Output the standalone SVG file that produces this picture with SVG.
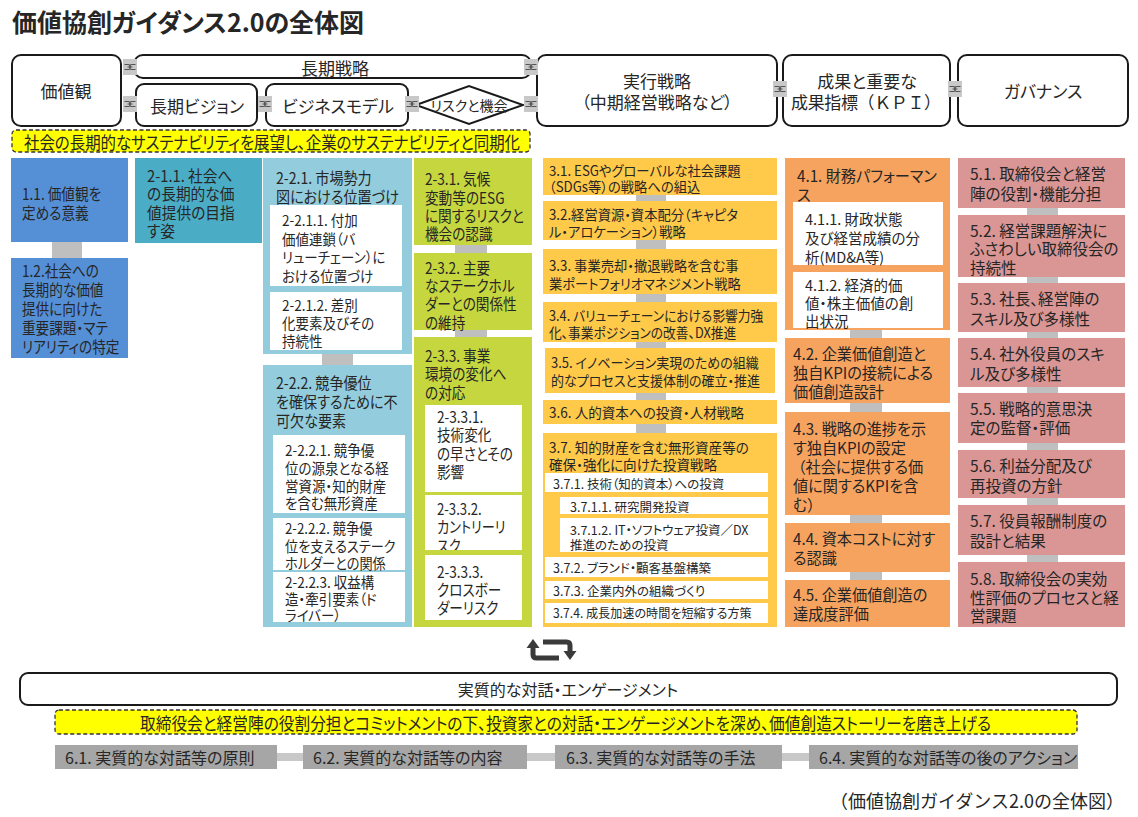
<svg xmlns="http://www.w3.org/2000/svg" width="1138" height="817" viewBox="0 0 1138 817">
<defs>
<style>
text{font-family:"Noto Sans CJK JP","Noto Sans",sans-serif;fill:#262626;font-feature-settings:"palt" 1;dominant-baseline:central}
.ttl{font-size:25px;font-weight:bold;dominant-baseline:auto}
.np{font-feature-settings:normal}
.h{font-size:17px}
.m{font-size:16px}
.f155{font-size:15.5px}
.f145{font-size:14.5px}
.s3{font-size:14px}
.x{font-size:12.5px}
.mid{text-anchor:middle}
.k{transform-box:fill-box;transform-origin:0 0}
.a85{transform:scaleX(.85)}
.a88{transform:scaleX(.88)}
.a91{transform:scaleX(.91)}
.a93{transform:scaleX(.93)}
.a95{transform:scaleX(.95)}
.a97{transform:scaleX(.97)}
.a98{transform:scaleX(.98)}
.ol{fill:#fff;stroke:#1a1a1a;stroke-width:2}
.b1{fill:#5590d6}
.b21{fill:#4bacc6}
.b22{fill:#93cddd}
.b23{fill:#c6d63f}
.b3{fill:#ffc94a}
.b4{fill:#f6a35f}
.b5{fill:#da9694}
.w{fill:#fff}
.g{fill:#bfbfbf}
.g6{fill:#a6a6a6}
.g7{fill:#c8c8c8}
.ban{fill:#ffff00;stroke:#333;stroke-width:1.3;stroke-dasharray:4 2.5}
.cyc{fill:none;stroke:#3a3a3a;stroke-width:5}
</style>
<symbol id="lk" viewBox="0 0 14 16"><rect width="14" height="16" fill="#c8c8c8"/><path d="M1.5 5.5h3.5a2.5 2.5 0 0 1 0 5H1.5M12.5 5.5H9a2.5 2.5 0 0 0 0 5h3.5M4.5 8h5" fill="none" stroke="#555" stroke-width="1.1"/></symbol>
<clipPath id="cp332"><rect x="425" y="495" width="97" height="55"/></clipPath>
</defs>
<rect width="1138" height="817" fill="#fff"/>
<text class="ttl" x="12" y="32" textLength="352">価値協創ガイダンス2.0の全体図</text>

<!-- top row -->
<g id="kachikan"><rect class="ol" x="12" y="55" width="109" height="71" rx="9"/><text class="h mid" x="66" y="90">価値観</text></g>
<g id="choki-senryaku"><rect class="ol" x="134" y="55" width="397" height="23" rx="9"/><text class="h mid" x="335" y="67">長期戦略</text></g>
<g id="choki-vision"><rect class="ol" x="136" y="84" width="121" height="42" rx="8"/><text class="h mid" x="197" y="105">長期ビジョン</text></g>
<g id="business-model"><rect class="ol" x="266" y="84" width="142" height="42" rx="8"/><text class="h mid" x="338" y="105">ビジネスモデル</text></g>
<g id="risk"><polygon class="ol" points="416,105 469,86 523,105 469,124"/><text class="s3 mid" x="469" y="105">リスクと機会</text></g>
<g id="jikko"><rect class="ol" x="537" y="55" width="240" height="71" rx="9"/><text class="h mid" x="657" y="80">実行戦略</text><text class="h mid" x="657" y="101">（中期経営戦略など）</text></g>
<g id="seika"><rect class="ol" x="783" y="55" width="167" height="71" rx="9"/><text class="h mid" x="867" y="80">成果と重要な</text><text class="h mid np" x="866" y="101" textLength="150">成果指標（ＫＰＩ）</text></g>
<g id="governance"><rect class="ol" x="958" y="55" width="170" height="71" rx="9"/><text class="h mid" x="1043" y="90">ガバナンス</text></g>
<g id="banner1"><rect class="ban" x="12" y="130" width="518" height="22" rx="4"/><text class="h" x="24" y="141" textLength="496" lengthAdjust="spacingAndGlyphs">社会の長期的なサステナビリティを展望し、企業のサステナビリティと同期化</text></g>

<g id="connectors">
<use href="#lk" x="123" y="59" width="14" height="16"/>
<use href="#lk" x="123" y="96" width="14" height="16"/>
<use href="#lk" x="258" y="96" width="14" height="16"/>
<use href="#lk" x="405" y="96" width="14" height="16"/>
<use href="#lk" x="524" y="59" width="14" height="16"/>
<use href="#lk" x="524" y="96" width="14" height="16"/>
<use href="#lk" x="773" y="81" width="14" height="16"/>
<use href="#lk" x="948" y="81" width="14" height="16"/>
<rect class="g" x="52" y="242" width="30" height="16"/>
<rect class="g" x="322" y="354" width="31" height="11"/>
<rect class="g" x="455" y="245" width="32" height="8"/>
<rect class="g" x="455" y="330" width="32" height="7"/>
<rect class="g" x="636" y="195" width="30" height="6"/>
<rect class="g" x="636" y="240" width="30" height="9"/>
<rect class="g" x="636" y="294" width="30" height="8"/>
<rect class="g" x="636" y="342" width="30" height="6"/>
<rect class="g" x="636" y="393" width="30" height="7"/>
<rect class="g" x="636" y="424" width="30" height="9"/>
<rect class="g" x="850" y="330" width="32" height="8"/>
<rect class="g" x="850" y="403" width="32" height="9"/>
<rect class="g" x="850" y="515" width="32" height="8"/>
<rect class="g" x="850" y="572" width="32" height="8"/>
<rect class="g" x="1027" y="208" width="31" height="7"/>
<rect class="g" x="1027" y="277" width="31" height="6"/>
<rect class="g" x="1027" y="332" width="31" height="6"/>
<rect class="g" x="1027" y="387" width="31" height="6"/>
<rect class="g" x="1027" y="443" width="31" height="7"/>
<rect class="g" x="1027" y="498" width="31" height="7"/>
<rect class="g" x="1027" y="555" width="31" height="7"/>
<rect class="g7" x="277" y="753" width="26" height="8"/>
<rect class="g7" x="527" y="753" width="28" height="8"/>
<rect class="g7" x="782" y="753" width="27" height="8"/>
</g>

<!-- column 1 -->
<g id="n1-1"><rect class="b1" x="11" y="158" width="117" height="84"/><text class="f155 k a88"><tspan x="22" y="193">1.1. 価値観を</tspan><tspan x="22" y="212">定める意義</tspan></text></g>
<g id="n1-2"><rect class="b1" x="11" y="258" width="117" height="100"/><text class="f155 k a88"><tspan x="22" y="270">1.2.社会への</tspan><tspan x="22" y="289">長期的な価値</tspan><tspan x="22" y="308">提供に向けた</tspan><tspan x="22" y="327">重要課題・マテ</tspan><tspan x="22" y="346">リアリティの特定</tspan></text></g>

<!-- column 2-1 -->
<g id="n2-1-1"><rect class="b21" x="135" y="158" width="127" height="85"/><text class="f155 k a95"><tspan x="147" y="175">2-1.1. 社会へ</tspan><tspan x="147" y="193">の長期的な価</tspan><tspan x="147" y="212">値提供の目指</tspan><tspan x="147" y="230">す姿</tspan></text></g>

<!-- column 2-2 -->
<g id="n2-2-1"><rect class="b22" x="263" y="158" width="149" height="196"/><text class="f155 k a91"><tspan x="276" y="177">2-2.1. 市場勢力</tspan><tspan x="276" y="196">図における位置づけ</tspan></text></g>
<g id="n2-2-1-1"><rect class="w" x="270" y="205" width="132" height="81"/><text class="f145 k a93"><tspan x="282" y="220">2-2.1.1. 付加</tspan><tspan x="282" y="239">価値連鎖（バ</tspan><tspan x="282" y="257">リューチェーン）に</tspan><tspan x="282" y="276">おける位置づけ</tspan></text></g>
<g id="n2-2-1-2"><rect class="w" x="270" y="292" width="132" height="58"/><text class="f145 k a93"><tspan x="282" y="305">2-2.1.2. 差別</tspan><tspan x="282" y="323">化要素及びその</tspan><tspan x="282" y="341">持続性</tspan></text></g>
<g id="n2-2-2"><rect class="b22" x="263" y="365" width="149" height="262"/><text class="f155 k a91"><tspan x="276" y="382">2-2.2. 競争優位</tspan><tspan x="276" y="401">を確保するために不</tspan><tspan x="276" y="420">可欠な要素</tspan></text></g>
<g id="n2-2-2-1"><rect class="w" x="273" y="435" width="132" height="78"/><text class="f145 k a93"><tspan x="285" y="450">2-2.2.1. 競争優</tspan><tspan x="285" y="468">位の源泉となる経</tspan><tspan x="285" y="486">営資源・知的財産</tspan><tspan x="285" y="503">を含む無形資産</tspan></text></g>
<g id="n2-2-2-2"><rect class="w" x="273" y="518" width="132" height="52"/><text class="f145 k a91"><tspan x="285" y="528">2-2.2.2. 競争優</tspan><tspan x="285" y="546">位を支えるステーク</tspan><tspan x="285" y="563">ホルダーとの関係</tspan></text></g>
<g id="n2-2-2-3"><rect class="w" x="273" y="572" width="132" height="50"/><text class="f145 k a93"><tspan x="285" y="582">2-2.2.3. 収益構</tspan><tspan x="285" y="599">造・牽引要素（ド</tspan><tspan x="285" y="615">ライバー）</tspan></text></g>

<!-- column 2-3 -->
<g id="n2-3-1"><rect class="b23" x="414" y="158" width="118" height="87"/><text class="f155 k a88"><tspan x="425" y="178">2-3.1. 気候</tspan><tspan x="425" y="197">変動等のESG</tspan><tspan x="425" y="215">に関するリスクと</tspan><tspan x="425" y="233">機会の認識</tspan></text></g>
<g id="n2-3-2"><rect class="b23" x="414" y="253" width="118" height="77"/><text class="f155 k a88"><tspan x="425" y="267">2-3.2. 主要</tspan><tspan x="425" y="285">なステークホル</tspan><tspan x="425" y="303">ダーとの関係性</tspan><tspan x="425" y="322">の維持</tspan></text></g>
<g id="n2-3-3"><rect class="b23" x="414" y="337" width="118" height="290"/><text class="f155 k a88"><tspan x="425" y="355">2-3.3. 事業</tspan><tspan x="425" y="373">環境の変化へ</tspan><tspan x="425" y="392">の対応</tspan></text></g>
<g id="n2-3-3-1"><rect class="w" x="425" y="405" width="97" height="87"/><text class="f155 k a88"><tspan x="437" y="416">2-3.3.1.</tspan><tspan x="437" y="434">技術変化</tspan><tspan x="437" y="453">の早さとその</tspan><tspan x="437" y="471">影響</tspan></text></g>
<g id="n2-3-3-2"><rect class="w" x="425" y="495" width="97" height="55"/><g clip-path="url(#cp332)"><text class="f155 k a85"><tspan x="437" y="507">2-3.3.2.</tspan><tspan x="437" y="525">カントリーリ</tspan><tspan x="437" y="544">スク</tspan></text></g></g>
<g id="n2-3-3-3"><rect class="w" x="425" y="555" width="97" height="65"/><text class="f155 k a88"><tspan x="437" y="571">2-3.3.3.</tspan><tspan x="437" y="589">クロスボー</tspan><tspan x="437" y="607">ダーリスク</tspan></text></g>

<!-- column 3 -->
<g id="n3-1"><rect class="b3" x="543" y="158" width="234" height="37"/><text class="s3 k a95"><tspan x="549" y="170">3.1. ESGやグローバルな社会課題</tspan><tspan x="549" y="186">（SDGs等）の戦略への組込</tspan></text></g>
<g id="n3-2"><rect class="b3" x="543" y="201" width="234" height="39"/><text class="s3 k a95"><tspan x="549" y="214">3.2.経営資源・資本配分（キャピタ</tspan><tspan x="549" y="231">ル・アロケーション）戦略</tspan></text></g>
<g id="n3-3"><rect class="b3" x="543" y="249" width="234" height="45"/><text class="s3 k a95"><tspan x="549" y="265">3.3. 事業売却・撤退戦略を含む事</tspan><tspan x="549" y="283">業ポートフォリオマネジメント戦略</tspan></text></g>
<g id="n3-4"><rect class="b3" x="543" y="302" width="234" height="40"/><text class="s3 k a91"><tspan x="549" y="315">3.4. バリューチェーンにおける影響力強</tspan><tspan x="549" y="332">化、事業ポジションの改善、DX推進</tspan></text></g>
<g id="n3-5"><rect class="b3" x="545" y="348" width="230" height="45"/><text class="s3 k a93"><tspan x="551" y="362">3.5. イノベーション実現のための組織</tspan><tspan x="551" y="380">的なプロセスと支援体制の確立・推進</tspan></text></g>
<g id="n3-6"><rect class="b3" x="543" y="400" width="234" height="24"/><text class="s3 k a97" x="549" y="412">3.6. 人的資本への投資・人材戦略</text></g>
<g id="n3-7"><rect class="b3" x="543" y="433" width="234" height="194"/><text class="s3 k a97"><tspan x="549" y="447">3.7. 知的財産を含む無形資産等の</tspan><tspan x="549" y="464">確保・強化に向けた投資戦略</tspan></text></g>
<g id="n3-7-1"><rect class="w" x="545" y="473" width="223" height="19"/><text class="x" x="553" y="483">3.7.1. 技術（知的資本）への投資</text></g>
<g id="n3-7-1-1"><rect class="w" x="560" y="497" width="208" height="17"/><text class="x" x="570" y="506">3.7.1.1. 研究開発投資</text></g>
<g id="n3-7-1-2"><rect class="w" x="560" y="518" width="208" height="34"/><text class="x"><tspan x="570" y="529">3.7.1.2. IT・ソフトウェア投資／DX</tspan><tspan x="570" y="544">推進のための投資</tspan></text></g>
<g id="n3-7-2"><rect class="w" x="545" y="557" width="223" height="20"/><text class="x" x="553" y="567">3.7.2. ブランド・顧客基盤構築</text></g>
<g id="n3-7-3"><rect class="w" x="545" y="581" width="223" height="18"/><text class="x" x="553" y="590">3.7.3. 企業内外の組織づくり</text></g>
<g id="n3-7-4"><rect class="w" x="545" y="603" width="223" height="20"/><text class="x k a97" x="553" y="613">3.7.4. 成長加速の時間を短縮する方策</text></g>

<!-- column 4 -->
<g id="n4-1"><rect class="b4" x="785" y="158" width="165" height="172"/><text class="f155 k a98"><tspan x="797" y="175">4.1. 財務パフォーマン</tspan><tspan x="797" y="194">ス</tspan></text></g>
<g id="n4-1-1"><rect class="w" x="793" y="202" width="150" height="63"/><text class="f145"><tspan x="805" y="218">4.1.1. 財政状態</tspan><tspan x="805" y="237">及び経営成績の分</tspan><tspan x="805" y="256">析(MD&amp;A等)</tspan></text></g>
<g id="n4-1-2"><rect class="w" x="793" y="272" width="150" height="56"/><text class="f145"><tspan x="805" y="284">4.1.2. 経済的価</tspan><tspan x="805" y="302">値・株主価値の創</tspan><tspan x="805" y="320">出状況</tspan></text></g>
<g id="n4-2"><rect class="b4" x="785" y="338" width="165" height="65"/><text class="f155 k a98"><tspan x="793" y="353">4.2. 企業価値創造と</tspan><tspan x="793" y="372">独自KPIの接続による</tspan><tspan x="793" y="391">価値創造設計</tspan></text></g>
<g id="n4-3"><rect class="b4" x="785" y="412" width="165" height="103"/><text class="f155 k a98"><tspan x="793" y="428">4.3. 戦略の進捗を示</tspan><tspan x="793" y="447">す独自KPIの設定</tspan><tspan x="798" y="466">（社会に提供する価</tspan><tspan x="793" y="485">値に関するKPIを含</tspan><tspan x="793" y="504">む）</tspan></text></g>
<g id="n4-4"><rect class="b4" x="785" y="523" width="165" height="49"/><text class="f155 k a98"><tspan x="793" y="538">4.4. 資本コストに対す</tspan><tspan x="793" y="557">る認識</tspan></text></g>
<g id="n4-5"><rect class="b4" x="785" y="580" width="165" height="47"/><text class="f155 k a98"><tspan x="793" y="594">4.5. 企業価値創造の</tspan><tspan x="793" y="613">達成度評価</tspan></text></g>

<!-- column 5 -->
<g id="n5-1"><rect class="b5" x="958" y="158" width="167" height="50"/><text class="m k a97"><tspan x="970" y="173">5.1. 取締役会と経営</tspan><tspan x="970" y="193">陣の役割・機能分担</tspan></text></g>
<g id="n5-2"><rect class="b5" x="958" y="215" width="167" height="62"/><text class="m k a97"><tspan x="970" y="230">5.2. 経営課題解決に</tspan><tspan x="970" y="248">ふさわしい取締役会の</tspan><tspan x="970" y="267">持続性</tspan></text></g>
<g id="n5-3"><rect class="b5" x="958" y="283" width="167" height="49"/><text class="m k a97"><tspan x="970" y="298">5.3. 社長、経営陣の</tspan><tspan x="970" y="318">スキル及び多様性</tspan></text></g>
<g id="n5-4"><rect class="b5" x="958" y="338" width="167" height="49"/><text class="m k a97"><tspan x="970" y="353">5.4. 社外役員のスキ</tspan><tspan x="970" y="373">ル及び多様性</tspan></text></g>
<g id="n5-5"><rect class="b5" x="958" y="393" width="167" height="50"/><text class="m k a97"><tspan x="970" y="408">5.5. 戦略的意思決</tspan><tspan x="970" y="427">定の監督・評価</tspan></text></g>
<g id="n5-6"><rect class="b5" x="958" y="450" width="167" height="48"/><text class="m k a97"><tspan x="970" y="465">5.6. 利益分配及び</tspan><tspan x="970" y="485">再投資の方針</tspan></text></g>
<g id="n5-7"><rect class="b5" x="958" y="505" width="167" height="50"/><text class="m k a97"><tspan x="970" y="520">5.7. 役員報酬制度の</tspan><tspan x="970" y="540">設計と結果</tspan></text></g>
<g id="n5-8"><rect class="b5" x="958" y="562" width="167" height="65"/><text class="m k a97"><tspan x="970" y="578">5.8. 取締役会の実効</tspan><tspan x="970" y="597">性評価のプロセスと経</tspan><tspan x="970" y="615">営課題</tspan></text></g>

<!-- bottom -->
<g id="cycle">
<path class="cyc" d="M533 646V654.5Q533 658 536.5 658H559"/>
<polygon points="526.5,648 539.5,648 533,639" fill="#3a3a3a"/>
<path class="cyc" d="M543 642H566.5Q570 642 570 645.5V652"/>
<polygon points="563.5,651 576.5,651 570,660" fill="#3a3a3a"/>
</g>
<g id="engagement"><rect class="ol" x="20" y="673" width="1097" height="32" rx="8"/><text class="m mid" x="568" y="689">実質的な対話・エンゲージメント</text></g>
<g id="banner2"><rect class="ban" x="55" y="710" width="1022" height="24" rx="4"/><text class="h" x="140" y="722" textLength="851" lengthAdjust="spacingAndGlyphs">取締役会と経営陣の役割分担とコミットメントの下、投資家との対話・エンゲージメントを深め、価値創造ストーリーを磨き上げる</text></g>
<g id="n6-1"><rect class="g6" x="55" y="745" width="222" height="24"/><text class="m" x="65" y="757">6.1. 実質的な対話等の原則</text></g>
<g id="n6-2"><rect class="g6" x="303" y="745" width="224" height="24"/><text class="m" x="313" y="757">6.2. 実質的な対話等の内容</text></g>
<g id="n6-3"><rect class="g6" x="555" y="745" width="227" height="24"/><text class="m" x="566" y="757">6.3. 実質的な対話等の手法</text></g>
<g id="n6-4"><rect class="g6" x="809" y="745" width="269" height="24"/><text class="m" x="819" y="757">6.4. 実質的な対話等の後のアクション</text></g>
<text class="np" x="1124" y="800" text-anchor="end" style="font-size:18px">（価値協創ガイダンス2.0の全体図）</text>
</svg>
